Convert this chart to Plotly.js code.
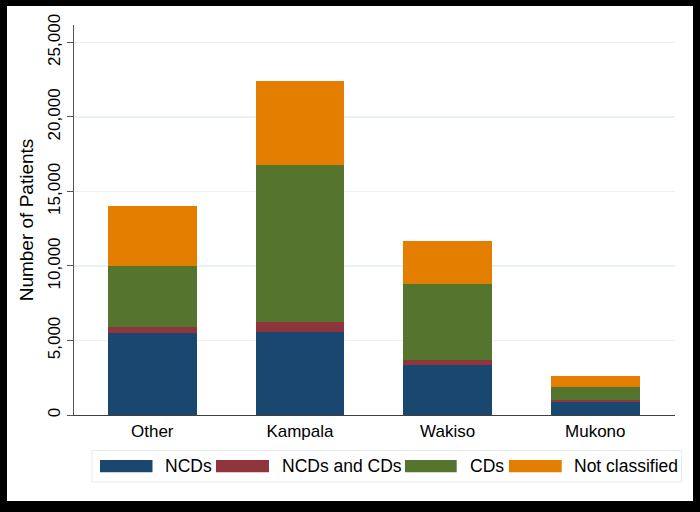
<!DOCTYPE html>
<html>
<head>
<meta charset="utf-8">
<script src="https://cdn.plot.ly/plotly-3.0.1.min.js"></script>
<style>
  html, body { margin: 0; padding: 0; background: #fff; }
  #wrap { position: relative; width: 700px; height: 512px; }
  #chart { position: absolute; left: 0; top: 0; width: 700px; height: 512px; }
  #frame { position: absolute; left: 0; top: 0; width: 700px; height: 512px; box-sizing: border-box;
           border-left: 7px solid #000; border-top: 6px solid #000; border-right: 7px solid #000; border-bottom: 11px solid #000;
           pointer-events: none; }
</style>
</head>
<body>
<div id="wrap"><div id="chart"></div><div id="frame"></div></div>
<script>
// ---- data ----
const regions = ["Other", "Kampala", "Wakiso", "Mukono"];
const seriesNames = ["NCDs", "NCDs and CDs", "CDs", "Not classified"];
const ncds = [5500, 5540, 3350, 870];
const ncdsAndCds = [400, 700, 360, 110];
const cds = [4100, 10550, 5080, 900];
const notClassified = [4050, 5640, 2860, 710];
const yTickVals = [0, 5000, 10000, 15000, 20000, 25000];
const yTickText = ["0", "5,000", "10,000", "15,000", "20,000", "25,000"];

// ---- styles ----
const colors = ["#1a476f", "#90353b", "#55752f", "#e37e00"];
const values = [ncds, ncdsAndCds, cds, notClassified];
const FONT = "Liberation Sans, Arial, sans-serif";

const traces = values.map((v, i) => ({
  type: "bar",
  x: regions,
  y: v,
  name: seriesNames[i],
  width: 0.6,
  marker: { color: colors[i], line: { width: 0 } },
  showlegend: false,
  hoverinfo: "x+y+name"
}));

// plot area in pixels: x 74..675, y 25..415
const L = 74, R = 675, T = 25, B = 415;
const px = x => (x - L) / (R - L);
const py = y => (B - y) / (B - T);

const shapes = [{
  type: "rect", xref: "paper", yref: "paper",
  x0: px(92), x1: px(681.5), y0: py(450.5), y1: py(482),
  line: { color: "#e4ecef", width: 1 }, fillcolor: "rgba(0,0,0,0)"
}];
const swX = [[100, 152.5], [216, 269], [405, 456.7], [509, 561.7]];
const txX = [163, 280, 468, 571.5];
const annotations = [];
seriesNames.forEach((n, i) => {
  shapes.push({
    type: "rect", xref: "paper", yref: "paper",
    x0: px(swX[i][0]), x1: px(swX[i][1]), y0: py(460), y1: py(472.3),
    line: { width: 0 }, fillcolor: colors[i]
  });
  annotations.push({
    xref: "paper", yref: "paper", x: px(txX[i]), y: py(466.2),
    xanchor: "left", yanchor: "middle", showarrow: false,
    text: n, font: { family: FONT, size: 17.5, color: "#000" }
  });
});

const layout = {
  width: 700, height: 512,
  margin: { l: L, r: 700 - R, t: T, b: 512 - B },
  paper_bgcolor: "#fff", plot_bgcolor: "#fff",
  barmode: "stack",
  bargap: 0.4,
  font: { family: FONT, color: "#000" },
  xaxis: {
    type: "category",
    range: [-0.53, 3.54],
    showgrid: false,
    showline: true, linecolor: "#404040", linewidth: 1.2,
    ticks: "", ticklen: 0,
    tickfont: { family: FONT, size: 17, color: "#000" },
    zeroline: false,
    fixedrange: true
  },
  yaxis: {
    range: [0, 26170],
    tickvals: yTickVals, ticktext: yTickText,
    tickangle: -90,
    tickfont: { family: FONT, size: 17, color: "#000" },
    ticks: "outside", ticklen: 6, tickcolor: "#555", tickwidth: 1,
    showline: true, linecolor: "#555", linewidth: 1.2,
    showgrid: true, gridcolor: "#e9f1f2", gridwidth: 1.5,
    zeroline: false,
    title: { text: "Number of Patients", font: { family: FONT, size: 19, color: "#000" }, standoff: 6 },
    fixedrange: true
  },
  shapes: shapes,
  annotations: annotations,
  showlegend: false
};

Plotly.newPlot("chart", traces, layout, { displayModeBar: false, staticPlot: true });
</script>
</body>
</html>
